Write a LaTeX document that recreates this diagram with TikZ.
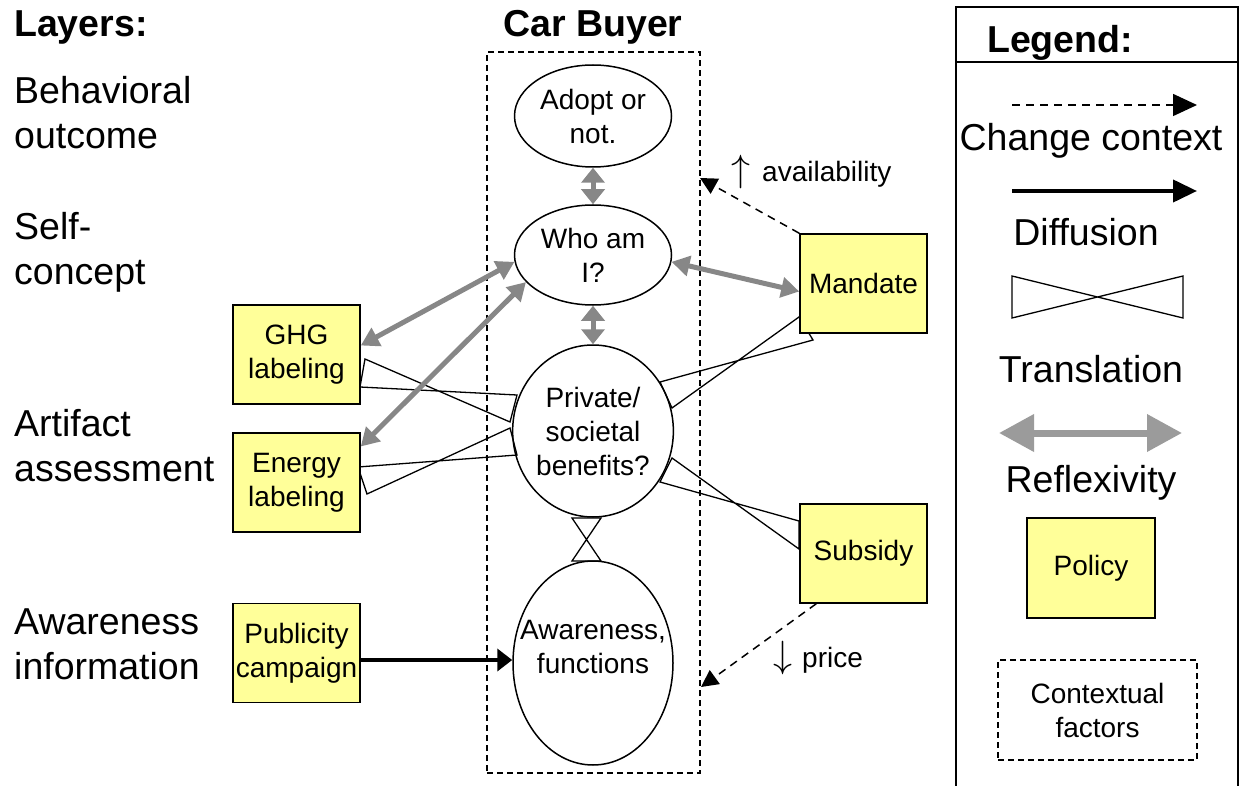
\RequirePackage{fix-cm}
\documentclass[tikz,border=0pt]{standalone}
\usepackage{fontspec}
\setmainfont{Liberation Sans}
\usetikzlibrary{arrows.meta,shapes.geometric,calc}
\definecolor{polyellow}{RGB}{255,255,153}
\definecolor{reflgray}{RGB}{135,135,135}
\definecolor{legendgray}{RGB}{155,155,155}
\newcommand{\bigarrowglyph}[1]{{\fontsize{38}{38}\selectfont$#1$}}
\begin{document}
\begin{tikzpicture}[x=1pt,y=-1pt,
  big/.style={font=\fontsize{37.5}{45}\selectfont, inner sep=0pt},
  bigb/.style={font=\fontsize{37.5}{45}\selectfont\bfseries, inner sep=0pt},
  small/.style={font=\fontsize{28}{34}\selectfont, inner sep=0pt},
  policy/.style={draw, line width=1.5pt, fill=polyellow, minimum width=127pt, minimum height=99pt, inner sep=0pt, align=center, small},
  oval/.style={draw, ellipse, line width=1.5pt, inner sep=0pt, align=center, small},
  refl/.style={draw=reflgray, line width=5pt, {Triangle[length=18pt,width=20pt]}-{Triangle[length=18pt,width=20pt]}},
  reflv/.style={draw=reflgray, line width=5pt, {Triangle[length=15pt,width=23pt]}-{Triangle[length=15pt,width=23pt]}},
  trans/.style={draw, line width=1.3pt, line join=miter},
  ctx/.style={draw, line width=1.5pt, dash pattern=on 8pt off 6pt, -{Triangle[length=17pt,width=17pt]}},
  diff/.style={draw, line width=4.5pt, -{Triangle[length=15pt,width=22pt]}},
  ctxbox/.style={draw, line width=1.3pt, dash pattern=on 6pt off 4pt},
]
\useasboundingbox (0,0) rectangle (1239,786);

% ---------- layer labels ----------
\node[bigb, anchor=west] (layers) at (14,27) {Layers:};
\node[big, anchor=west, align=left] (lbeh) at (14,112.5) {Behavioral\\outcome};
\node[big, anchor=west, align=left] (lself) at (14,252.5) {Self-\\concept};
\node[big, anchor=west, align=left] (lart) at (14,445.5) {Artifact\\assessment};
\node[big, anchor=west, align=left] (lawa) at (14,644.5) {Awareness\\information};

% ---------- car buyer ----------
\node[bigb] (buyertitle) at (593,27) {Car Buyer};
\node[ctxbox, minimum width=213pt, minimum height=721pt, inner sep=0pt] (buyer) at (593.5,412.5) {};

% ---------- translation bow-ties (drawn under the nodes) ----------
\coordinate (t1a) at (365,359); \coordinate (t1b) at (510,422);
\coordinate (t1c) at (517,395); \coordinate (t1d) at (360,387);
\draw[trans] (t1a) -- (t1b) -- (t1c) -- (t1d) -- cycle;
\coordinate (t2a) at (358,467); \coordinate (t2b) at (517,455);
\coordinate (t2c) at (510,428); \coordinate (t2d) at (367,494);
\draw[trans] (t2a) -- (t2b) -- (t2c) -- (t2d) -- cycle;
\coordinate (t3a) at (660,382); \coordinate (t3b) at (813,340);
\coordinate (t3c) at (799,317); \coordinate (t3d) at (672,408);
\draw[trans] (t3a) -- (t3b) -- (t3c) -- (t3d) -- cycle;
\coordinate (t4a) at (672,458); \coordinate (t4b) at (799,549);
\coordinate (t4c) at (799,521); \coordinate (t4d) at (660,482);
\draw[trans] (t4a) -- (t4b) -- (t4c) -- (t4d) -- cycle;
\coordinate (t5a) at (572,518); \coordinate (t5b) at (601,561);
\coordinate (t5c) at (572,561); \coordinate (t5d) at (601,518);
\draw[trans] (t5a) -- (t5b) -- (t5c) -- (t5d) -- cycle;

% ---------- ellipses ----------
\node[oval, minimum width=157pt, minimum height=102pt] (adopt) at (593,116) {Adopt or\\not.};
\node[oval, minimum width=157pt, minimum height=100pt] (who) at (593,255) {Who am\\I?};
\node[oval, minimum width=160pt, minimum height=172pt] (priv) at (593,431) {Private/\\societal\\benefits?};
\node[oval, minimum width=160pt, minimum height=204pt] (aware) at (593,663) {};
\node[small, align=center] (awaretext) at (593,647) {Awareness,\\functions};

% ---------- policy boxes ----------
\node[policy] (ghg) at (296.5,354.5) {GHG\\labeling};
\node[policy] (energy) at (296.5,482.5) {Energy\\labeling};
\node[policy] (pub) at (296.5,653) {Publicity\\campaign};
\node[policy] (mandate) at (863.5,283.5) {Mandate};
\node[policy] (subsidy) at (863.5,553.5) {Subsidy};

% ---------- reflexivity ----------
\draw[refl] ([yshift=9pt]ghg.east) -- (who.185);
\draw[refl] ([yshift=36pt]energy.east) -- (who.202);
\draw[refl] (who.-5) -- ([yshift=-8pt]mandate.west);
\draw[reflv] (adopt.south) -- (who.north);
\draw[reflv] (who.south) -- (priv.north);

% ---------- diffusion ----------
\draw[diff] ([yshift=-7pt]pub.east) -- ([yshift=3pt]aware.west);

% ---------- change context ----------
\coordinate (availpt) at (700,178);
\coordinate (pricept) at (701,687);
\draw[ctx] (mandate.north west) -- (availpt);
\draw[ctx] ([xshift=17pt]subsidy.south west) -- (pricept);
\node[small, anchor=base west] (availlbl) at (731,182) {\bigarrowglyph{\uparrow}\hspace{12pt}availability};
\node[small, anchor=base west] (pricelbl) at (773,667) {\bigarrowglyph{\downarrow}\hspace{10pt}price};

% ---------- legend ----------
\draw[line width=1.5pt] (956,790) -- (956,7) -- (1238,7) -- (1238,790);
\draw[line width=1.5pt] (956,62) -- (1238,62);
\node[bigb] (legendtitle) at (1060,43) {Legend:};

\coordinate (lca) at (1012,105); \coordinate (lcb) at (1197,105);
\draw[line width=1.5pt, dash pattern=on 8pt off 6pt, -{Triangle[length=24pt,width=22pt]}] (lca) -- (lcb);
\node[big] (lctext) at (1091,141) {Change context};

\coordinate (lda) at (1012,191); \coordinate (ldb) at (1197,191);
\draw[line width=4pt, -{Triangle[length=24pt,width=22pt]}] (lda) -- (ldb);
\node[big] (ldtext) at (1086,232) {Diffusion};

\coordinate (lta) at (1012,276); \coordinate (ltb) at (1183,318);
\coordinate (ltc) at (1183,276); \coordinate (ltd) at (1012,318);
\draw[trans] (lta) -- (ltb) -- (ltc) -- (ltd) -- cycle;
\node[big] (lttext) at (1091,369) {Translation};

\coordinate (lra) at (999,433); \coordinate (lrb) at (1182,433);
\draw[draw=legendgray, line width=7pt, {Triangle[length=35pt,width=36pt]}-{Triangle[length=35pt,width=36pt]}] (lra) -- (lrb);
\node[big] (lrtext) at (1091,483) {Reflexivity};

\node[policy, minimum width=128pt, minimum height=100pt] (lpolicy) at (1091,568) {Policy};
\node[ctxbox, small, align=center, minimum width=199pt, minimum height=100pt] (lctx) at (1097.5,710) {Contextual\\factors};
\end{tikzpicture}
\end{document}
